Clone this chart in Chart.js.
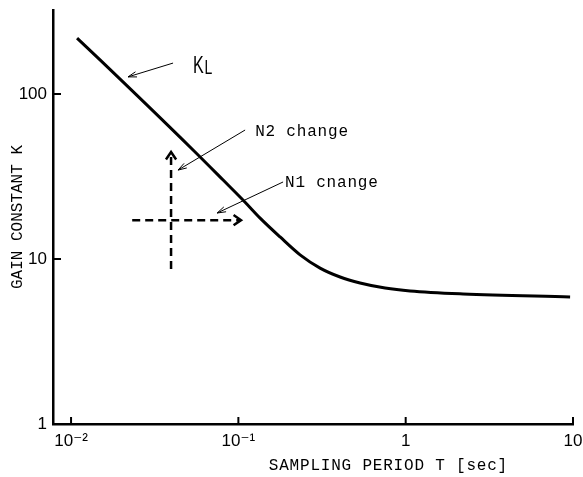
<!DOCTYPE html>
<html>
<head>
<meta charset="utf-8">
<script src="https://cdn.jsdelivr.net/npm/chart.js@4.4.1/dist/chart.umd.min.js"></script>
<style>
    html, body { margin: 0; padding: 0; background: #fff; }
    #wrap { width: 583px; height: 477px; }
</style>
</head>
<body>
<div id="wrap"><canvas id="gainChart"></canvas></div>
<script>
// K_L curve
const periodT = [0.01086, 0.0149, 0.0536, 0.0811, 0.1097, 0.1349, 0.1776, 0.2338, 0.3078, 0.4055, 0.5337, 0.7534, 1.062, 2.203, 9.61];
const gainK = [218, 161, 45.8, 30.1, 22.1, 17.7, 13.6, 10.6, 8.81, 7.78, 7.16, 6.67, 6.40, 6.14, 5.89];

const xTickValues = [0.01, 0.1, 1, 10];
const xTickLabels = ["10⁻²", "10⁻¹", "1", "10"];
const yTickValues = [1, 10, 100];
const yTickLabels = ["1", "10", "100"];

// dashed arrows (N2 up, N1 right)
const n2T = [0.0396, 0.0396];
const n2K = [8.69, 44.5];
const n1T = [0.0232, 0.1037];
const n1K = [17.2, 17.2];

// thin pointer lines from the labels (tail, tip)
const klPtrT = [0.0407, 0.0219];
const klPtrK = [154, 127];
const n2PtrT = [0.1097, 0.0436];
const n2PtrK = [60.5, 34.6];
const n1PtrT = [0.185, 0.0747];
const n1PtrK = [29.3, 19.0];

// text labels
const noteTexts = ["N2 change", "N1 cnange"];
const noteT = [0.126, 0.190];
const noteK = [58.9, 28.8];
const klT = 0.0536;
const klK = 150;

const monoFont = "16px 'Liberation Mono', 'DejaVu Sans Mono', monospace";

function pts(ts, ks) {
    return ts.map((t, i) => ({ x: t, y: ks[i] }));
}

// Draws arrow heads, inward tick marks, the labels and the x title
const extrasPlugin = {
    id: "extras",
    afterDatasetsDraw(chart) {
        const ctx = chart.ctx;
        const xs = chart.scales.x;
        const ys = chart.scales.y;
        const area = chart.chartArea;

        // arrow heads
        chart.data.datasets.forEach((ds, i) => {
            if (!ds.arrow) return;
            const meta = chart.getDatasetMeta(i);
            const a = meta.data[meta.data.length - 2];
            const b = meta.data[meta.data.length - 1];
            const ang = Math.atan2(b.y - a.y, b.x - a.x);
            const len = ds.arrow.len;
            const spread = ds.arrow.spread;
            ctx.save();
            ctx.strokeStyle = "#000";
            ctx.lineWidth = ds.arrow.width;
            ctx.lineJoin = "miter";
            ctx.beginPath();
            ctx.moveTo(b.x - len * Math.cos(ang - spread), b.y - len * Math.sin(ang - spread));
            ctx.lineTo(b.x, b.y);
            ctx.lineTo(b.x - len * Math.cos(ang + spread), b.y - len * Math.sin(ang + spread));
            ctx.stroke();
            ctx.restore();
        });

        // tick marks pointing into the plot
        ctx.save();
        ctx.strokeStyle = "#000";
        ctx.lineWidth = 2;
        yTickValues.forEach(v => {
            if (v === yTickValues[0]) return;
            const y = ys.getPixelForValue(v);
            ctx.beginPath();
            ctx.moveTo(area.left, y);
            ctx.lineTo(area.left + 8, y);
            ctx.stroke();
        });
        xTickValues.forEach(v => {
            const x = xs.getPixelForValue(v);
            ctx.beginPath();
            ctx.moveTo(x, area.bottom);
            ctx.lineTo(x, area.bottom - 7);
            ctx.stroke();
        });
        ctx.restore();

        // note labels
        ctx.save();
        ctx.fillStyle = "#000";
        ctx.font = monoFont;
        ctx.letterSpacing = "0.8px";
        ctx.textBaseline = "middle";
        ctx.textAlign = "left";
        noteTexts.forEach((txt, i) => {
            ctx.fillText(txt, xs.getPixelForValue(noteT[i]), ys.getPixelForValue(noteK[i]));
        });
        ctx.restore();

        // K with subscript L, narrow sans
        ctx.save();
        ctx.fillStyle = "#000";
        ctx.translate(xs.getPixelForValue(klT), ys.getPixelForValue(klK));
        ctx.scale(0.7, 1);
        ctx.textBaseline = "alphabetic";
        ctx.font = "23px 'Liberation Sans', Arial, sans-serif";
        ctx.fillText("K", 0, 8);
        const kw = ctx.measureText("K").width;
        ctx.font = "20px 'Liberation Sans', Arial, sans-serif";
        ctx.fillText("L", kw + 1, 9);
        ctx.restore();

        // x axis title
        ctx.save();
        ctx.fillStyle = "#000";
        ctx.font = monoFont;
        ctx.letterSpacing = "0.8px";
        ctx.textAlign = "center";
        ctx.textBaseline = "middle";
        ctx.fillText("SAMPLING PERIOD T [sec]", area.left + (area.right - area.left) * 0.645, 466);
        ctx.restore();
    }
};

const dashedArrow = { len: 9, spread: 0.6, width: 2.5 };
const thinArrow = { len: 9, spread: 0.3, width: 1 };

function lineSet(data, opts) {
    return Object.assign({
        data: data,
        borderColor: "#000",
        pointRadius: 0,
        fill: false,
        tension: 0
    }, opts);
}

const ctx = document.getElementById("gainChart").getContext("2d");
new Chart(ctx, {
    type: "line",
    data: {
        datasets: [
            lineSet(pts(periodT, gainK), { borderWidth: 3, cubicInterpolationMode: "monotone" }),
            lineSet(pts(n2T, n2K), { borderWidth: 2.5, borderDash: [8, 5], arrow: dashedArrow }),
            lineSet(pts(n1T, n1K), { borderWidth: 2.5, borderDash: [8, 5], arrow: dashedArrow }),
            lineSet(pts(klPtrT, klPtrK), { borderWidth: 1, arrow: thinArrow }),
            lineSet(pts(n2PtrT, n2PtrK), { borderWidth: 1, arrow: thinArrow }),
            lineSet(pts(n1PtrT, n1PtrK), { borderWidth: 1, arrow: thinArrow })
        ]
    },
    options: {
        responsive: true,
        maintainAspectRatio: false,
        animation: false,
        layout: { padding: { top: 10, right: 10, left: 0, bottom: 0 } },
        plugins: {
            legend: { display: false },
            tooltip: { enabled: false }
        },
        scales: {
            x: {
                type: "logarithmic",
                min: 0.0078,
                max: 10,
                afterBuildTicks: scale => {
                    scale.ticks = xTickValues.map(v => ({ value: v }));
                },
                afterFit: scale => {
                    scale.height = 53;
                    scale.paddingLeft = 0;
                    scale.paddingRight = 0;
                },
                grid: { display: false, drawTicks: false },
                border: { display: true, color: "#000", width: 2.5 },
                ticks: {
                    color: "#000",
                    padding: 7,
                    maxRotation: 0,
                    autoSkip: false,
                    font: { family: "'Liberation Sans', 'DejaVu Sans', sans-serif", size: 17 },
                    callback: function (value) {
                        const i = xTickValues.indexOf(value);
                        return i >= 0 ? xTickLabels[i] : "";
                    }
                }
            },
            y: {
                type: "logarithmic",
                min: 1,
                max: 323,
                afterBuildTicks: scale => {
                    scale.ticks = yTickValues.map(v => ({ value: v }));
                },
                afterFit: scale => {
                    scale.width = 53;
                    scale.paddingTop = 0;
                    scale.paddingBottom = 0;
                },
                grid: { display: false, drawTicks: false },
                border: { display: true, color: "#000", width: 2.5 },
                title: {
                    display: true,
                    text: "GAIN CONSTANT K",
                    color: "#000",
                    padding: { top: 8, bottom: 0 },
                    font: { family: "'Liberation Mono', 'DejaVu Sans Mono', monospace", size: 16 }
                },
                ticks: {
                    color: "#000",
                    padding: 6,
                    autoSkip: false,
                    font: { family: "'Liberation Sans', 'DejaVu Sans', sans-serif", size: 17 },
                    callback: function (value) {
                        const i = yTickValues.indexOf(value);
                        return i >= 0 ? yTickLabels[i] : "";
                    }
                }
            }
        }
    },
    plugins: [extrasPlugin]
});
</script>
</body>
</html>
